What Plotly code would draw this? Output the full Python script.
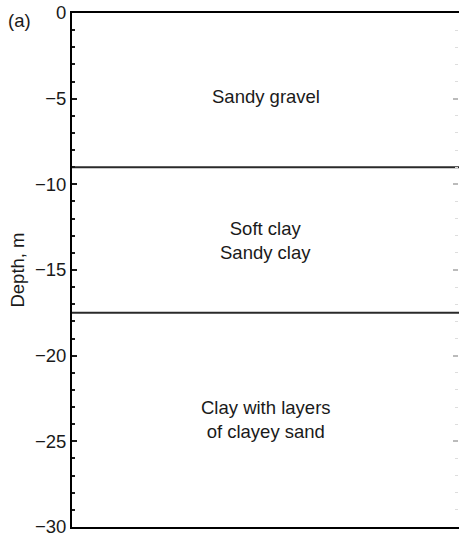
import plotly.graph_objects as go

# Soil profile: layer boundaries (m) and layer descriptions
boundaries = [-9.0, -17.5]
layer_labels = ["Sandy gravel", "Soft clay<br>Sandy clay", "Clay with layers<br>of clayey sand"]
label_depths = [-4.9, -13.25, -23.7]
depth_range = [-30, 0]
major_ticks = [0, -5, -10, -15, -20, -25, -30]

FONT_SIZE = 18.5

fig = go.Figure()

for b in boundaries:
    fig.add_trace(go.Scatter(
        x=[0, 1], y=[b, b], mode="lines",
        line=dict(color="#2a2a2a", width=2), showlegend=False, hoverinfo="skip",
    ))

# invisible trace to activate the secondary (right) axis
fig.add_trace(go.Scatter(x=[0.5], y=[-15], yaxis="y2", mode="markers",
                         marker=dict(opacity=0), showlegend=False, hoverinfo="skip"))

for txt, d in zip(layer_labels, label_depths):
    fig.add_annotation(x=0.5, y=d, text=txt, showarrow=False,
                       font=dict(size=FONT_SIZE, color="#1a1a1a"))

fig.add_annotation(xref="paper", yref="paper", x=-0.136, y=0.986, text="(a)",
                   showarrow=False, xanchor="center", yanchor="middle",
                   font=dict(size=FONT_SIZE, color="#1a1a1a"))

fig.update_layout(
    width=459, height=537,
    margin=dict(l=72, r=0, t=13, b=10),
    plot_bgcolor="white", paper_bgcolor="white",
    font=dict(family="Liberation Sans, Arial, sans-serif", size=FONT_SIZE, color="#1a1a1a"),
    xaxis=dict(range=[0, 1], showticklabels=False, ticks="", showgrid=False,
               zeroline=False, showline=True, linecolor="black", linewidth=2,
               mirror=True),
    yaxis=dict(range=depth_range, tickvals=major_ticks, ticks="inside", ticklen=5,
               tickwidth=1.5, tickcolor="#1a1a1a", showgrid=False, zeroline=False,
               showline=True, linecolor="black", linewidth=2,
               minor=dict(dtick=1, ticks="inside", ticklen=3, tickwidth=1.5,
                          tickcolor="#1a1a1a", showgrid=False),
               title=dict(text="Depth, m", standoff=5, font=dict(size=FONT_SIZE)),
               ticklabelstandoff=0, ticklabeloverflow="allow", automargin=False),
    yaxis2=dict(range=depth_range, overlaying="y", side="right", anchor="free",
                position=0.998, tickvals=major_ticks, ticks="inside", ticklen=5,
                tickwidth=1.5, tickcolor="#bbbbbb", showticklabels=False,
                showgrid=False, zeroline=False, showline=False,
                minor=dict(dtick=1, ticks="inside", ticklen=3, tickwidth=1,
                           tickcolor="#dddddd", showgrid=False)),
)

fig.write_html("out.html")
